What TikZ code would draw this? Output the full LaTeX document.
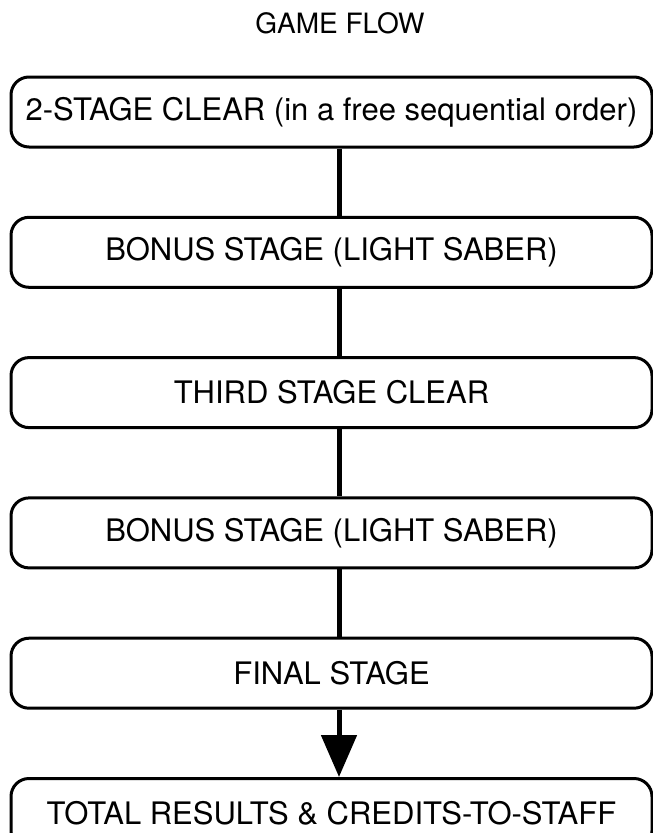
\documentclass[tikz,border=0pt]{standalone}
\usepackage{fontspec}
\setmainfont{TeX Gyre Heros}
\usetikzlibrary{positioning,arrows.meta}

\begin{document}
\begin{tikzpicture}[x=1pt, y=1pt,
   stage/.style={draw, line width=3pt, rounded corners=18pt,
      minimum width=641pt, minimum height=70pt, inner sep=0pt,
      font=\fontsize{31}{36}\selectfont},
   link/.style={line width=5pt},
   node distance=67.3pt]
\useasboundingbox (0,0) rectangle (653,-833);
\node[anchor=base, font=\fontsize{28}{34}\selectfont] (title) at (340,-33) {GAME FLOW};
\node[stage] (clear2) at (331.5,-112) {2-STAGE CLEAR (in a free sequential order)};
\node[stage, below=of clear2] (bonus1) {BONUS STAGE (LIGHT SABER)};
\node[stage, below=of bonus1] (clear3) {THIRD STAGE CLEAR};
\node[stage, below=of clear3] (bonus2) {BONUS STAGE (LIGHT SABER)};
\node[stage, below=of bonus2] (final) {FINAL STAGE};
\node[stage, below=of final] (results) {TOTAL RESULTS \& CREDITS-TO-STAFF};
\draw[link] ([xshift=7.5pt]clear2.south) -- ([xshift=7.5pt]bonus1.north);
\draw[link] ([xshift=7.5pt]bonus1.south) -- ([xshift=7.5pt]clear3.north);
\draw[link] ([xshift=7.5pt]clear3.south) -- ([xshift=7.5pt]bonus2.north);
\draw[link] ([xshift=7.5pt]bonus2.south) -- ([xshift=7.5pt]final.north);
\draw[link, -{Triangle[width=35pt, length=42pt]}] ([xshift=7.5pt]final.south) -- ([xshift=7.5pt]results.north);
\end{tikzpicture}
\end{document}
